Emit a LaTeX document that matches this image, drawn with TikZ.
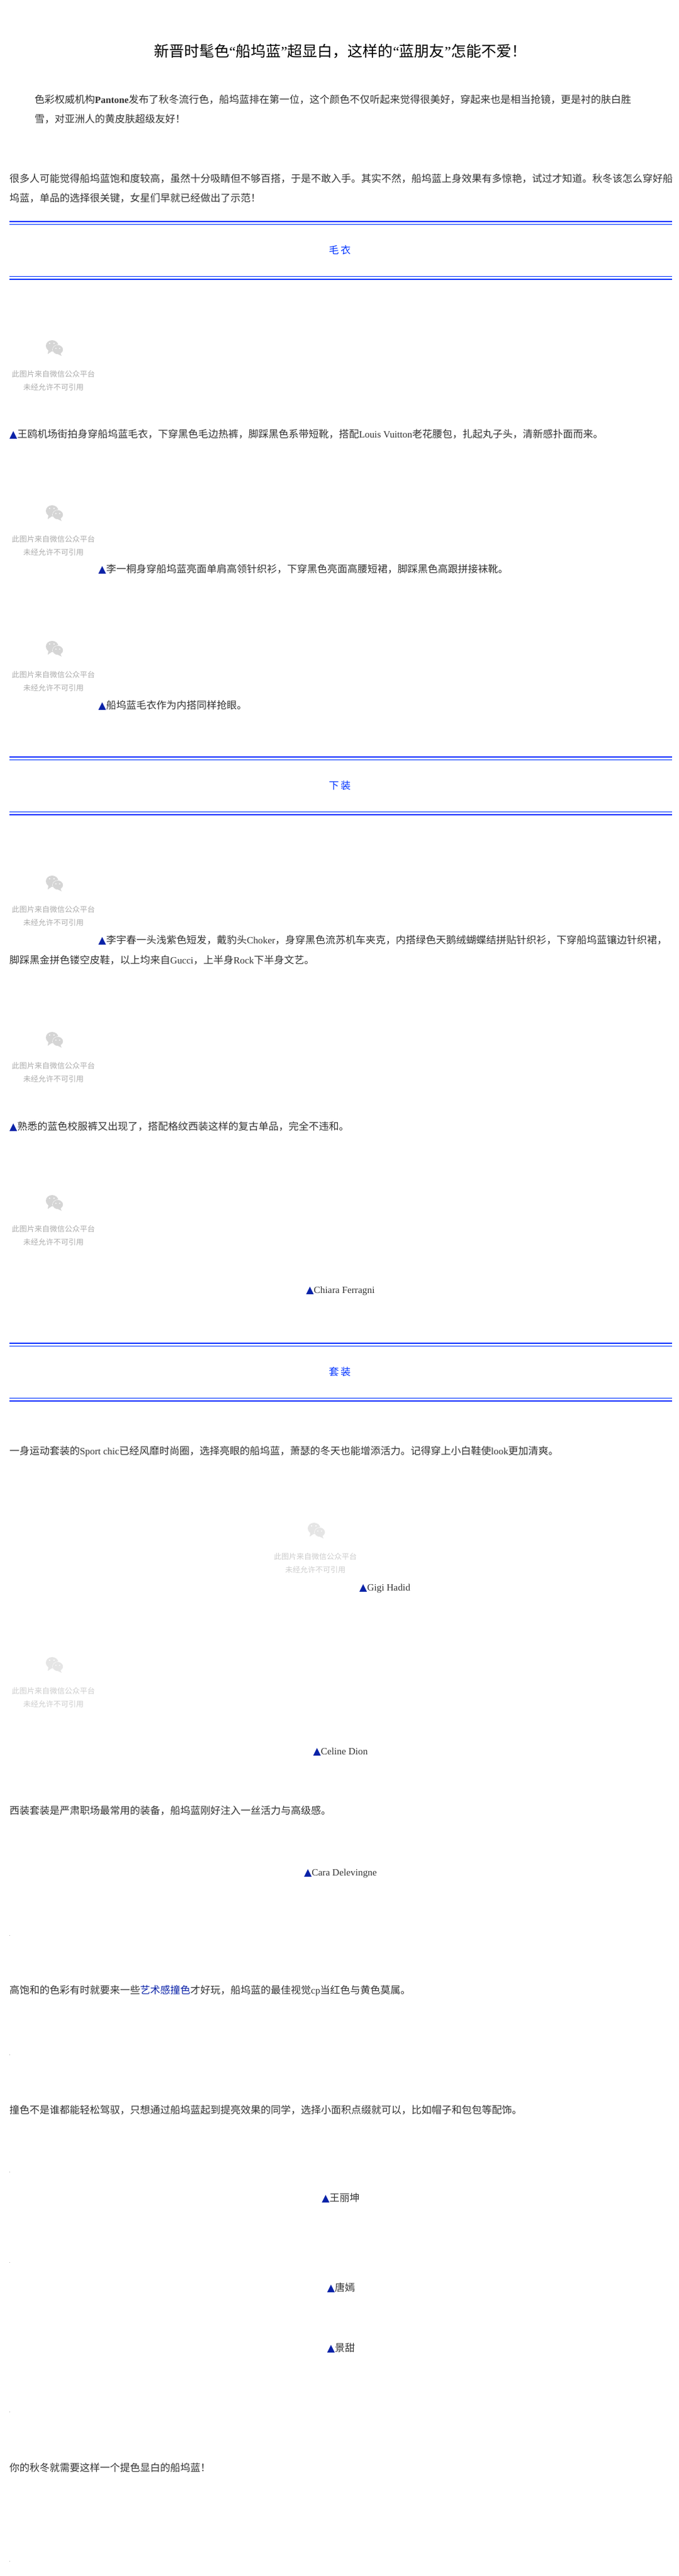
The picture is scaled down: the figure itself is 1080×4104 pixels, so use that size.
\documentclass[tikz,border=0pt]{standalone}
\usepackage{fontspec}
\setmainfont{Noto Sans CJK SC}
\newfontfamily\lat[Scale=0.96]{Liberation Serif}
\newfontfamily\sym{DejaVu Sans}
\usetikzlibrary{positioning}
\definecolor{ruleblue}{HTML}{0033FF}
\definecolor{triblue}{HTML}{0A22A8}
\definecolor{bodygray}{HTML}{333333}
\definecolor{wxgray}{HTML}{ABABAB}
\definecolor{wxpale}{HTML}{CCCCCC}
\newcommand{\tri}{{\sym\color{triblue}▲}}
\tikzset{
    body/.style={anchor=west, inner sep=0pt, text=bodygray, align=left, font=\fontsize{16}{31}\selectfont},
    oneline/.style={body, text height=11pt, text depth=2pt},
    wxtext/.style={inner sep=0pt, font=\fontsize{12}{12}\selectfont},
    wxPic/.pic={
		\fill[#1!50!white] (-2,-45) ellipse (10pt and 9pt);
		\fill[#1!50!white] (-8,-38) -- (-9,-32) -- (-3,-36) -- cycle;
		\fill[#1!50!white, draw=white] (7,-39) ellipse (8.5pt and 7.5pt);
		\fill[#1!50!white] (11,-34) -- (13,-29) -- (7,-32) -- cycle;
		\fill[white] (-6,-49) circle (1.2pt);
		\fill[white] (1,-49) circle (1.2pt);
		\fill[white] (4,-41) circle (1pt);
		\fill[white] (10,-41) circle (1pt);
		\node[wxtext, text=#1] (-top) at (0,0) {此图片来自微信公众平台};
		\node[wxtext, text=#1] (-sub) at (0,21) {未经允许不可引用};
	}
}
\tikzset{
    secHead/.pic={
		\draw[ruleblue, line width=2.2pt] (15,0) -- (1070,0);
		\draw[ruleblue, line width=1pt] (15,4.2) -- (1070,4.2);
		\node[inner sep=0pt, text=ruleblue, font=\fontsize{16}{16}\selectfont] (-name) at (541,45) {#1};
		\draw[ruleblue, line width=1pt] (15,87.3) -- (1070,87.3);
		\draw[ruleblue, line width=2.2pt] (15,91.6) -- (1070,91.6);
	}
}

\begin{document}
\begin{tikzpicture}[x=1pt,y=-1pt]
          \useasboundingbox (0,0) rectangle (1080,4104);
          \fill[white] (0,0) rectangle (1080,4104);
          \node[anchor=west, inner sep=0pt, font=\fontsize{24}{24}\selectfont] (title) at (245,82) {新晋时髦色{\lat “}船坞蓝{\lat ”}超显白，这样的{\lat “}蓝朋友{\lat ”}怎能不爱！};
          \node[body] (intro) at (55,174.5) {色彩权威机构{\lat\bfseries Pantone}发布了秋冬流行色，船坞蓝排在第一位，这个颜色不仅听起来觉得很美好，穿起来也是相当抢镜，更是衬的肤白胜\\雪，对亚洲人的黄皮肤超级友好！};
          \node[body] (lead) at (15,300.5) {很多人可能觉得船坞蓝饱和度较高，虽然十分吸睛但不够百搭，于是不敢入手。其实不然，船坞蓝上身效果有多惊艳，试过才知道。秋冬该怎么穿好船\\坞蓝，单品的选择很关键，女星们早就已经做出了示范！};
          % sweaters
          \pic (secA) at (0,353) {secHead={毛\hspace{3pt}衣}};
          \pic (holdA) at (85,596) {wxPic=wxgray};
          \node[oneline] (capA) at (15,693) {\tri 王鸥机场街拍身穿船坞蓝毛衣，下穿黑色毛边热裤，脚踩黑色系带短靴，搭配{\lat Louis Vuitton}老花腰包，扎起丸子头，清新感扑面而来。};
          \pic (holdB) at (85,859) {wxPic=wxgray};
          \node[oneline] (capB) at (156.5,908) {\tri 李一桐身穿船坞蓝亮面单肩高领针织衫，下穿黑色亮面高腰短裙，脚踩黑色高跟拼接袜靴。};
          \pic (holdC) at (85,1075) {wxPic=wxgray};
          \node[oneline] (capC) at (156.5,1124.5) {\tri 船坞蓝毛衣作为内搭同样抢眼。};
          % bottoms
          \pic (secB) at (0,1206) {secHead={下\hspace{3pt}装}};
          \pic (holdD) at (85,1449) {wxPic=wxgray};
          \node[oneline] (capD) at (156.5,1499) {\tri 李宇春一头浅紫色短发，戴豹头{\lat Choker}，身穿黑色流苏机车夹克，内搭绿色天鹅绒蝴蝶结拼贴针织衫，下穿船坞蓝镶边针织裙，};
          \node[oneline] (capDb) at (15,1531) {脚踩黑金拼色镂空皮鞋，以上均来自{\lat Gucci}，上半身{\lat Rock}下半身文艺。};
          \pic (holdE) at (85,1698) {wxPic=wxgray};
          \node[oneline] (capE) at (15,1796) {\tri 熟悉的蓝色校服裤又出现了，搭配格纹西装这样的复古单品，完全不违和。};
          \pic (holdF) at (85,1958) {wxPic=wxgray};
          \node[oneline, anchor=center] (capF) at (542,2056) {\tri{\lat Chiara Ferragni}};
          % suits
          \pic (secC) at (0,2140) {secHead={套\hspace{3pt}装}};
          \node[oneline] (sport) at (15,2313) {一身运动套装的{\lat Sport chic}已经风靡时尚圈，选择亮眼的船坞蓝，萧瑟的冬天也能增添活力。记得穿上小白鞋使{\lat look}更加清爽。};
          \pic (holdG) at (502,2480) {wxPic=wxpale};
          \node[oneline] (capG) at (572,2530) {\tri{\lat Gigi Hadid}};
          \pic (holdH) at (85,2694) {wxPic=wxpale};
          \node[oneline, anchor=center] (capH) at (542,2791) {\tri{\lat Celine Dion}};
          \node[oneline] (office) at (15,2886) {西装套装是严肃职场最常用的装备，船坞蓝刚好注入一丝活力与高级感。};
          \node[oneline, anchor=center] (capI) at (542,2984) {\tri{\lat Cara Delevingne}};
          \node[oneline] (clash) at (15,3172) {高饱和的色彩有时就要来一些{\color{triblue}艺术感撞色}才好玩，船坞蓝的最佳视觉{\lat cp}当红色与黄色莫属。};
          \node[oneline] (accent) at (15,3363) {撞色不是谁都能轻松驾驭，只想通过船坞蓝起到提亮效果的同学，选择小面积点缀就可以，比如帽子和包包等配饰。};
          \node[oneline, anchor=center] (capJ) at (542.5,3503) {\tri 王丽坤};
          \node[oneline, anchor=center] (capK) at (543,3646) {\tri 唐嫣};
          \node[oneline, anchor=center] (capL) at (543,3742) {\tri 景甜};
          \node[oneline] (closing) at (15,3932.5) {你的秋冬就需要这样一个提色显白的船坞蓝！};
          % stray pixels
          \foreach \py in {3083,3273,3460,3604,3842,4080}
              \fill[wxgray] (15,\py) rectangle +(1,1);
        \end{tikzpicture}
\end{document}
